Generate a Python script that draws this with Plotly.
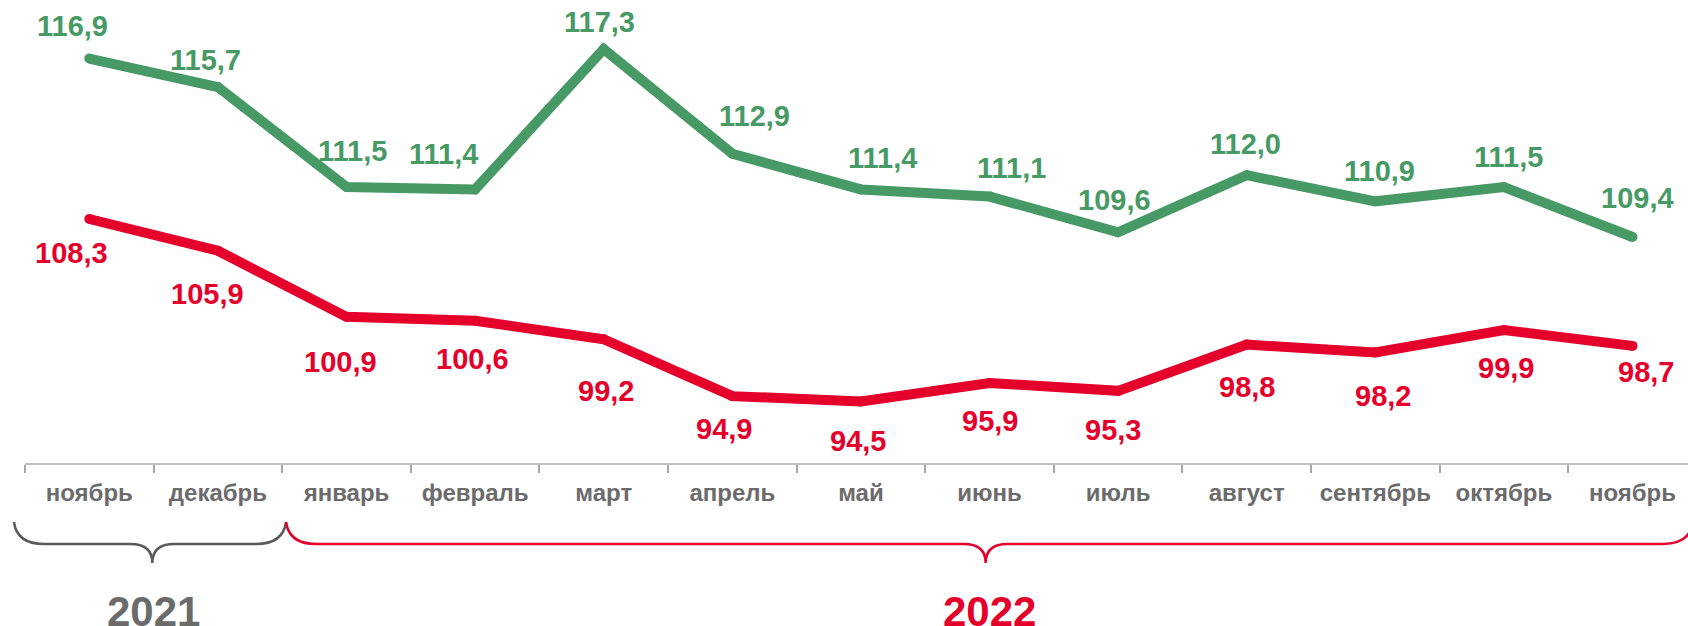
import plotly.graph_objects as go

# ---------------- data ----------------
months = ["ноябрь", "декабрь", "январь", "февраль", "март", "апрель", "май",
          "июнь", "июль", "август", "сентябрь", "октябрь", "ноябрь"]
green_values = [116.9, 115.7, 111.5, 111.4, 117.3, 112.9, 111.4,
                111.1, 109.6, 112.0, 110.9, 111.5, 109.4]
red_values = [108.3, 105.9, 100.9, 100.6, 99.2, 94.9, 94.5,
              95.9, 95.3, 98.8, 98.2, 99.9, 98.7]
year_labels = ["2021", "2022"]

# ---------------- styling ----------------
GREEN = "#479A65"
RED = "#E4002B"
GRAY_TXT = "#6B6B6B"
GRAY_BRACE = "#5A5A5A"
FONT = "Liberation Sans, Arial, sans-serif"

W, H = 1688, 626
ML, MR, MT = 25, 0, 0
AXIS_Y = 463                      # pixel row of the x axis line
MB = H - AXIS_Y
PW = W - ML - MR
PH = AXIS_Y - MT
CAT_W = 128.6                     # pixel width of one month
X_RANGE = [-0.5, -0.5 + PW / CAT_W]

# y ranges (two hidden value axes)
G_RANGE = [99.905, 119.359]
R_RANGE = [89.843, 124.866]

# label offsets in pixels (dx, dy; dy positive = down)
green_off = [(-17, -33), (-12, -27), (6, -36), (-32, -35), (-4, -27), (22, -38),
             (22, -31), (22, -29), (-4, -32), (-1, -31), (4, -30), (5, -30), (5, -39)]
red_off = [(-18, 34), (-10, 43), (-6, 45), (-3, 38), (2, 52), (-8, 33), (-3, 40),
           (0, 38), (-5, 39), (0, 42), (8, 43), (2, 38), (13, 26)]

x = list(range(len(months)))

fig = go.Figure()
fig.add_trace(go.Scatter(
    x=x, y=green_values, mode="lines+markers", yaxis="y",
    line=dict(color=GREEN, width=10), marker=dict(color=GREEN, size=10, line=dict(width=0)),
    hoverinfo="skip", showlegend=False, cliponaxis=False))
fig.add_trace(go.Scatter(
    x=x, y=red_values, mode="lines+markers", yaxis="y2",
    line=dict(color=RED, width=10), marker=dict(color=RED, size=10, line=dict(width=0)),
    hoverinfo="skip", showlegend=False, cliponaxis=False))

def fmt(v):
    return f"{v:.1f}".replace(".", ",")

annotations = []
for i, v in enumerate(green_values):
    dx, dy = green_off[i]
    annotations.append(dict(x=i, y=v, xref="x", yref="y", text=fmt(v), showarrow=False,
                            xshift=dx, yshift=-dy, xanchor="center", yanchor="middle",
                            font=dict(family=FONT, size=29, color=GREEN, weight="bold")))
for i, v in enumerate(red_values):
    dx, dy = red_off[i]
    annotations.append(dict(x=i, y=v, xref="x", yref="y2", text=fmt(v), showarrow=False,
                            xshift=dx, yshift=-dy, xanchor="center", yanchor="middle",
                            font=dict(family=FONT, size=29, color=RED, weight="bold")))

def py2paper(py):
    return (AXIS_Y - py) / PH

def cx2paper(c):
    return (c - X_RANGE[0]) / (X_RANGE[1] - X_RANGE[0])

# year labels (positioned at the middle of their month span)
YEAR_Y = 611
annotations.append(dict(x=0.5, y=py2paper(YEAR_Y), xref="x", yref="paper", text=year_labels[0],
                        showarrow=False, xanchor="center", yanchor="middle",
                        font=dict(family=FONT, size=42, color=GRAY_TXT, weight="bold")))
annotations.append(dict(x=7, y=py2paper(YEAR_Y), xref="x", yref="paper", text=year_labels[1],
                        showarrow=False, xanchor="center", yanchor="middle",
                        font=dict(family=FONT, size=42, color=RED, weight="bold")))

# curly braces (x in month units, y in pixels)
def brace(c0, c1, ctip, y_top=522, y_mid=544, y_tip=563, r=30, rt=22):
    def P(c, py):
        return f"{cx2paper(c):.5f},{py2paper(py):.5f}"
    dc = r / CAT_W
    dt = rt / CAT_W
    d = (f"M {P(c0, y_top)} Q {P(c0 + 0.1 * dc, y_mid)} {P(c0 + dc, y_mid)} "
         f"L {P(ctip - dt, y_mid)} Q {P(ctip, y_mid)} {P(ctip, y_tip)} "
         f"Q {P(ctip, y_mid)} {P(ctip + dt, y_mid)} "
         f"L {P(c1 - dc, y_mid)} Q {P(c1 - 0.1 * dc, y_mid)} {P(c1, y_top)}")
    return d

shapes = [
    dict(type="path", xref="paper", yref="paper",
         path=brace(-0.586, 1.53, 0.49), line=dict(color=GRAY_BRACE, width=2.5)),
    dict(type="path", xref="paper", yref="paper",
         path=brace(1.53, 12.47, 6.97), line=dict(color=RED, width=2.5)),
]

fig.update_layout(
    width=W, height=H,
    margin=dict(l=ML, r=MR, t=MT, b=MB, pad=0),
    paper_bgcolor="white", plot_bgcolor="white",
    showlegend=False,
    xaxis=dict(
        range=X_RANGE, tickmode="array", tickvals=x, ticktext=months,
        ticks="", showgrid=False, zeroline=False,
        showline=True, linecolor="#BFBFBF", linewidth=2,
        tickfont=dict(family=FONT, size=24, color=GRAY_TXT, weight="bold"),
        ticklabelstandoff=7, automargin=False, fixedrange=True,
        minor=dict(tickmode="array", tickvals=[k - 0.5 for k in range(len(months) + 1)],
                   ticks="outside", ticklen=8, tickcolor="#A6A6A6", tickwidth=1.5,
                   showgrid=False),
    ),
    yaxis=dict(range=G_RANGE, visible=False, fixedrange=True),
    yaxis2=dict(range=R_RANGE, visible=False, overlaying="y", fixedrange=True),
    annotations=annotations,
    shapes=shapes,
)

fig.write_html("out.html", config={"displayModeBar": False},
               post_script="document.body.style.margin='0';")
